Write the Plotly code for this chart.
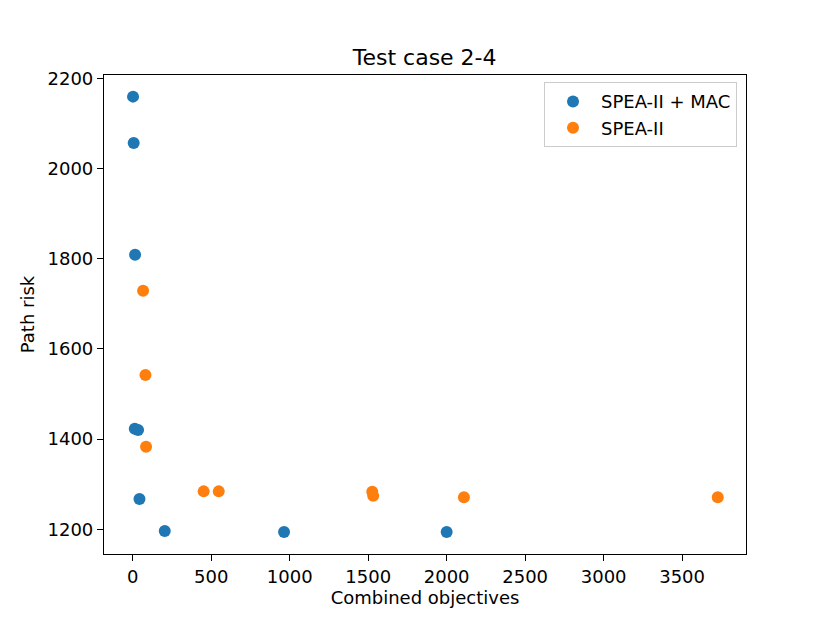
import plotly.graph_objects as go

# SPEA-II + MAC
mac_x = [2, 6, 15, 13, 34, 43, 204, 964, 2000]
mac_y = [2160, 2057, 1809, 1423, 1420, 1267, 1196, 1194, 1194]

# SPEA-II
spea_x = [66, 81, 85, 452, 548, 1526, 1532, 2110, 3727]
spea_y = [1729, 1542, 1383, 1284, 1284, 1283, 1274, 1271, 1271]

x_ticks = [0, 500, 1000, 1500, 2000, 2500, 3000, 3500]
y_ticks = [1200, 1400, 1600, 1800, 2000, 2200]

FONT = "DejaVu Sans"

fig = go.Figure()
fig.add_trace(go.Scatter(x=mac_x, y=mac_y, mode="markers", name="SPEA-II + MAC",
                         marker=dict(color="#1f77b4", size=12)))
fig.add_trace(go.Scatter(x=spea_x, y=spea_y, mode="markers", name="SPEA-II",
                         marker=dict(color="#ff7f0e", size=12)))

axis_common = dict(showline=True, linecolor="black", linewidth=1.2, mirror=True,
                   ticks="outside", ticklen=6, tickwidth=1.2, tickcolor="black",
                   showgrid=False, zeroline=False,
                   tickfont=dict(family=FONT, size=18, color="black"))

fig.update_layout(
    width=830, height=623,
    paper_bgcolor="white", plot_bgcolor="white",
    margin=dict(l=96, r=92, t=67, b=77),
    title=dict(text="Test case 2-4", x=0.502, xanchor="center", xref="container",
               y=0.921, yanchor="middle", yref="container",
               font=dict(family=FONT, size=22, color="black")),
    font=dict(family=FONT, size=18, color="black"),
    legend=dict(x=0.986, y=0.985, xanchor="right", yanchor="top",
                bordercolor="#cccccc", borderwidth=1, bgcolor="white",
                itemwidth=46,
                font=dict(family=FONT, size=18, color="black")),
    showlegend=True,
)
fig.update_xaxes(range=[-183, 3907], tickvals=x_ticks,
                 title=dict(text="Combined objectives", standoff=4,
                            font=dict(family=FONT, size=18)),
                 **axis_common)
fig.update_yaxes(range=[1145, 2208], tickvals=y_ticks,
                 title=dict(text="Path risk", standoff=8,
                            font=dict(family=FONT, size=18)),
                 **axis_common)

fig.write_html("out.html")
